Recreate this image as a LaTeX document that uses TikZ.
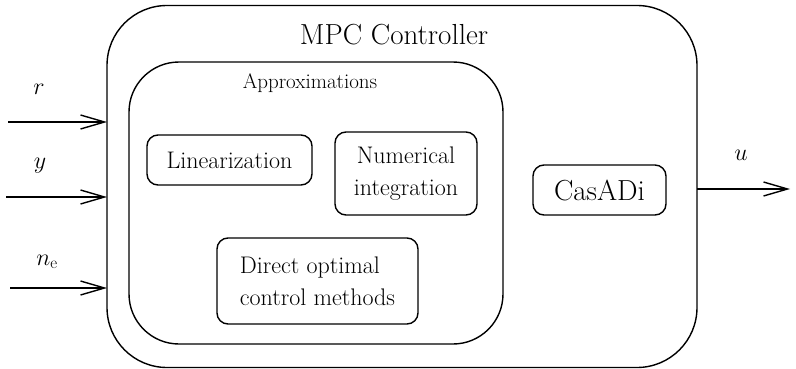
\documentclass[tikz,border=0pt]{standalone}
\usepackage{fix-cm}
\usepackage{fontspec}
\usetikzlibrary{arrows.meta}
\begin{document}
\begin{tikzpicture}[x=1pt,y=-1pt,
  every node/.style={inner sep=0pt, outer sep=0pt},
  bigbox/.style={draw, line width=1.4pt, rounded corners=#1},
  smallbox/.style={draw, line width=1.4pt, rounded corners=11pt, align=center,
    font=\fontsize{24}{32}\selectfont},
  sig/.style={line width=1.4pt, -{Straight Barb[length=24pt,width=14pt,line width=1.4pt]}},
  lab/.style={font=\fontsize{24}{28}\selectfont}]
\useasboundingbox (0,0) rectangle (796,369);
\node[bigbox=60pt, minimum width=590pt, minimum height=362pt] (mpc) at (402,186.5) {};
\node[font=\fontsize{29}{34}\selectfont] (title) at (394,35) {MPC Controller};
\node[bigbox=50pt, minimum width=374pt, minimum height=282pt] (approx) at (316,203) {};
\node[font=\fontsize{21}{25}\selectfont] (atitle) at (310,83) {Approximations};
\node[smallbox, minimum width=165pt, minimum height=50pt] (lin) at (229.5,160) {Linearization};
\node[smallbox, minimum width=142pt, minimum height=83pt] (num) at (406,173.5) {Numerical\\integration};
\node[smallbox, minimum width=133pt, minimum height=50pt, font=\fontsize{29}{34}\selectfont] (cas) at (599.5,190) {CasADi};
\node[smallbox, minimum width=201pt, minimum height=86pt, align=left] (doc) at (317.5,281) {Direct optimal\\control methods};
\coordinate (r0) at (8,122);
\coordinate (y0) at (6,197);
\coordinate (n0) at (10,288);
\coordinate (u1) at (790,189);
\draw[sig] (r0) -- (r0 -| mpc.west);
\draw[sig] (y0) -- (y0 -| mpc.west);
\draw[sig] (n0) -- (n0 -| mpc.west);
\draw[sig] (u1 -| mpc.east) -- (u1);
\node[lab] (rl) at (39,89) {$r$};
\node[lab] (yl) at (40,166) {$y$};
\node[lab] (nl) at (47,262) {$n_{\mathrm{e}}$};
\node[lab] (ul) at (741,155) {$u$};
\end{tikzpicture}
\end{document}
